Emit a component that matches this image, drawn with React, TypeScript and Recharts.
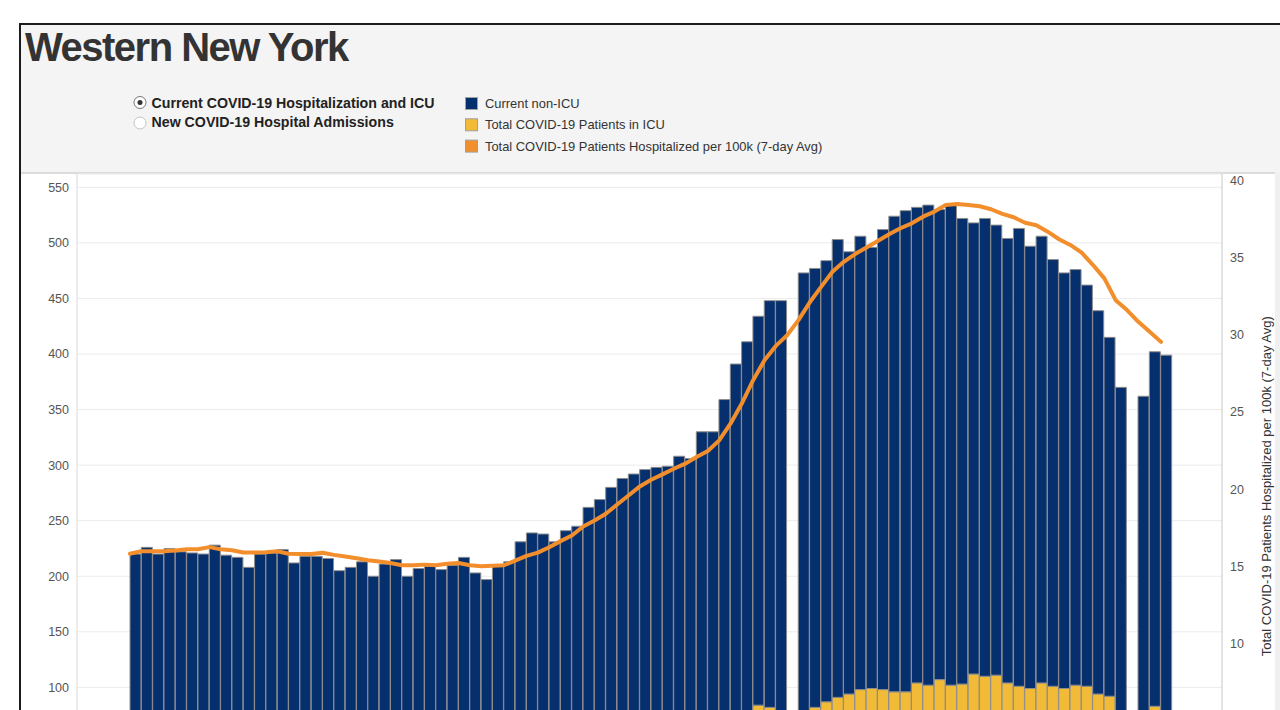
import React from "react";
import { ComposedChart, Bar, Line, XAxis, YAxis, CartesianGrid } from "recharts";

// Days from Nov 1 to Jan 31
const dates: string[] = [
  "11/1","11/2","11/3","11/4","11/5","11/6","11/7","11/8","11/9","11/10",
  "11/11","11/12","11/13","11/14","11/15","11/16","11/17","11/18","11/19","11/20",
  "11/21","11/22","11/23","11/24","11/25","11/26","11/27","11/28","11/29","11/30",
  "12/1","12/2","12/3","12/4","12/5","12/6","12/7","12/8","12/9","12/10",
  "12/11","12/12","12/13","12/14","12/15","12/16","12/17","12/18","12/19","12/20",
  "12/21","12/22","12/23","12/24","12/25","12/26","12/27","12/28","12/29","12/30",
  "12/31","1/1","1/2","1/3","1/4","1/5","1/6","1/7","1/8","1/9",
  "1/10","1/11","1/12","1/13","1/14","1/15","1/16","1/17","1/18","1/19",
  "1/20","1/21","1/22","1/23","1/24","1/25","1/26","1/27","1/28","1/29",
  "1/30","1/31",
];

// Total COVID-19 patients in ICU (yellow, bottom of stack)
const icuPatients: (number | null)[] = [
  48, 50, 49, 51, 50, 49, 48, 50, 49, 47,
  46, 48, 49, 50, 47, 48, 49, 48, 46, 47,
  48, 45, 46, 48, 45, 46, 47, 46, 47, 49,
  46, 45, 47, 48, 50, 52, 53, 52, 54, 55,
  57, 58, 60, 61, 62, 63, 64, 64, 66, 66,
  68, 69, 71, 73, 76, 84, 82, 78, null, 79,
  82, 87, 91, 94, 98, 99, 98, 96, 96, 104,
  102, 107, 102, 103, 112, 110, 111, 104, 101, 99,
  104, 101, 99, 102, 101, 94, 92, 78, null, 76,
  83, 78,
];

// Current non-ICU patients (navy, top of stack)
const nonIcuPatients: (number | null)[] = [
  172, 176, 171, 174, 172, 172, 172, 178, 170, 170,
  162, 172, 172, 174, 165, 170, 169, 168, 159, 161,
  165, 155, 165, 167, 155, 161, 162, 160, 163, 168,
  157, 152, 162, 165, 181, 187, 185, 179, 187, 190,
  205, 211, 220, 227, 230, 233, 234, 235, 242, 240,
  262, 261, 288, 318, 335, 350, 366, 370, null, 394,
  395, 397, 412, 398, 408, 397, 414, 428, 433, 428,
  432, 423, 432, 419, 406, 412, 405, 400, 412, 398,
  402, 384, 374, 374, 361, 345, 323, 292, null, 286,
  319, 321,
];

// Total COVID-19 patients hospitalized per 100k (7-day avg)
const hospPer100k: number[] = [
  15.83, 16.0, 16.0, 16.0, 16.05, 16.13, 16.13, 16.26, 16.13, 16.06,
  15.91, 15.91, 15.93, 15.99, 15.83, 15.81, 15.81, 15.9, 15.76, 15.65,
  15.54, 15.41, 15.33, 15.24, 15.09, 15.09, 15.13, 15.09, 15.18, 15.24,
  15.09, 15.02, 15.05, 15.09, 15.39, 15.7, 15.91, 16.25, 16.65, 17.01,
  17.6, 17.98, 18.42, 19.02, 19.6, 20.19, 20.62, 20.97, 21.33, 21.66,
  22.09, 22.48, 23.17, 24.25, 25.55, 27.06, 28.35, 29.28, 29.97, 30.95,
  32.1, 33.1, 34.08, 34.72, 35.22, 35.65, 36.07, 36.5, 36.89, 37.21,
  37.64, 37.97, 38.4, 38.46, 38.4, 38.31, 38.12, 37.82, 37.6, 37.25,
  37.08, 36.67, 36.18, 35.81, 35.31, 34.51, 33.65, 32.24, 31.6, 30.84,
  30.19, 29.54,
];

// Tick labels visible in the view
const leftTicks = [100, 150, 200, 250, 300, 350, 400, 450, 500, 550];
const rightTicks = [10, 15, 20, 25, 30, 35, 40];

const title = "Western New York";
const radioOptions = ["Current COVID-19 Hospitalization and ICU", "New COVID-19 Hospital Admissions"];
const legendItems = [
  { label: "Current non-ICU", color: "#062f6e" },
  { label: "Total COVID-19 Patients in ICU", color: "#f1bb38" },
  { label: "Total COVID-19 Patients Hospitalized per 100k (7-day Avg)", color: "#f28e2b" },
];
const rightAxisTitle = "Total COVID-19 Patients Hospitalized per 100k (7-day Avg)";

const chartData = dates.map((d, i) => ({
  date: d,
  icu: icuPatients[i],
  nonIcu: nonIcuPatients[i],
  per100k: hospPer100k[i],
}));

const FONT = "'Liberation Sans', Arial, Helvetica, sans-serif";

function RightAxisLabel(props: any) {
  const vb = props.viewBox || {};
  const cx = vb.x + 44;
  const cy = vb.y + vb.height / 2;
  return (
    <text
      x={cx}
      y={cy}
      transform={`rotate(-90 ${cx} ${cy})`}
      textAnchor="middle"
      dominantBaseline="central"
      fontSize={13}
      fill="#333"
      fontFamily={FONT}
    >
      {rightAxisTitle}
    </text>
  );
}

export default function App() {
  return (
    <div
      style={{
        position: "absolute",
        left: 0,
        top: 0,
        width: 1280,
        height: 710,
        overflow: "hidden",
        background: "#fff",
        fontFamily: FONT,
      }}
    >
      {/* frame */}
      <div
        style={{
          position: "absolute",
          left: 19,
          top: 23,
          width: 1300,
          height: 900,
          borderTop: "2px solid #1c1c1c",
          borderLeft: "2px solid #1c1c1c",
          background: "#fff",
        }}
      />
      {/* header background */}
      <div
        style={{
          position: "absolute",
          left: 21,
          top: 25,
          width: 1300,
          height: 147,
          background: "#f4f4f4",
          borderBottom: "2px solid #dcdcdc",
        }}
      />
      {/* right strip */}
      <div
        style={{
          position: "absolute",
          left: 1275,
          top: 172,
          width: 10,
          height: 600,
          background: "#f0f0f0",
        }}
      />
      <svg
        width={1280}
        height={172}
        style={{ position: "absolute", left: 0, top: 0 }}
      >
        <text
          x={25}
          y={61}
          fontSize={40}
          fontWeight="bold"
          fill="#333"
          letterSpacing={-1.5}
          fontFamily={FONT}
        >
          {title}
        </text>
        {radioOptions.map((opt, i) => (
          <g key={opt}>
            <circle
              cx={140}
              cy={102.5 + i * 20.5}
              r={6}
              fill="#fff"
              stroke={i === 0 ? "#777" : "#c4c4c4"}
              strokeWidth={1}
            />
            {i === 0 && <circle cx={140} cy={102.5} r={2.5} fill="#333" />}
            <text
              x={151.5}
              y={107.5 + i * 19.5}
              fontSize={14.2}
              fontWeight="bold"
              fill="#222"
              fontFamily={FONT}
            >
              {opt}
            </text>
          </g>
        ))}
        {legendItems.map((it, i) => (
          <g key={it.label}>
            <rect
              x={465.5}
              y={97.5 + i * 21.3}
              width={12}
              height={12}
              fill={it.color}
              stroke="#a0a0a0"
              strokeWidth={1}
            />
            <text
              x={485}
              y={108 + i * 21.3}
              fontSize={12.9}
              fill="#333"
              fontFamily={FONT}
            >
              {it.label}
            </text>
          </g>
        ))}
      </svg>
      <div style={{ position: "absolute", left: 0, top: 0, width: 1280, height: 900 }}>
        <ComposedChart
          width={1280}
          height={900}
          data={chartData}
          margin={{ top: 174, right: 0, bottom: 101.5, left: 0 }}
          barCategoryGap={0}
          barGap={0}
        >
          <CartesianGrid
            yAxisId="left"
            vertical={false}
            stroke="#ececec"
            strokeWidth={1}
          />
          <XAxis
            dataKey="date"
            hide
            padding={{ left: 53, right: 50 }}
          />
          <XAxis
            xAxisId="line"
            dataKey="date"
            scale="point"
            hide
            padding={{ left: 53, right: 61 }}
          />
          <YAxis
            yAxisId="left"
            orientation="left"
            width={77}
            domain={[0, 562]}
            ticks={leftTicks}
            tickLine={false}
            axisLine={{ stroke: "#d9d9d9" }}
            tick={{ fontSize: 12.5, fill: "#555", fontFamily: FONT }}
            interval={0}
            allowDataOverflow
          />
          <YAxis
            yAxisId="right"
            orientation="right"
            width={58}
            domain={[0, 40.4]}
            ticks={rightTicks}
            tickLine={false}
            axisLine={{ stroke: "#c8c8c8" }}
            tick={{ fontSize: 12.5, fill: "#555", fontFamily: FONT, textAnchor: "start" }}
            interval={0}
            allowDataOverflow
            label={<RightAxisLabel />}
          />
          <Bar
            yAxisId="left"
            dataKey="icu"
            stackId="h"
            fill="#f1bb38"
            stroke="#8d8d8d"
            strokeWidth={1}
            isAnimationActive={false}
          />
          <Bar
            yAxisId="left"
            dataKey="nonIcu"
            stackId="h"
            fill="#062f6e"
            stroke="#8d8d8d"
            strokeWidth={1}
            isAnimationActive={false}
          />
          <Line
            xAxisId="line"
            yAxisId="right"
            dataKey="per100k"
            type="linear"
            stroke="#f28e2b"
            strokeWidth={4}
            strokeLinejoin="round"
            strokeLinecap="round"
            dot={false}
            activeDot={false}
            isAnimationActive={false}
          />
        </ComposedChart>
      </div>
    </div>
  );
}
